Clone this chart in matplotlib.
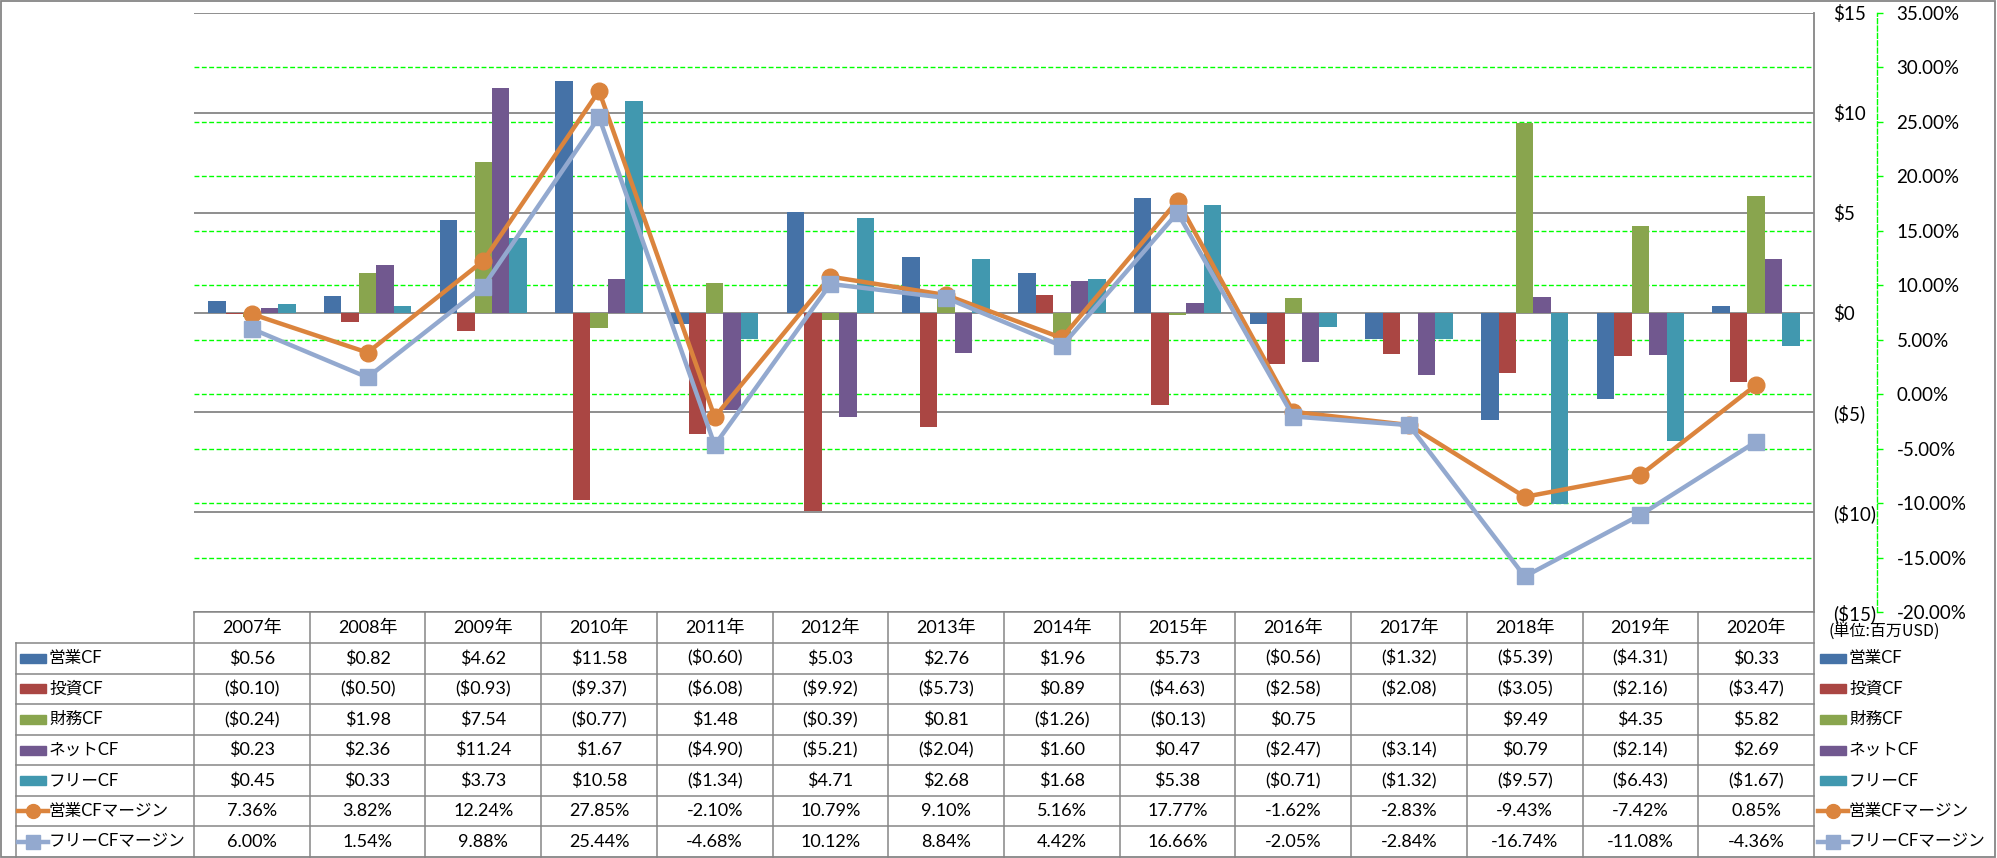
import numpy as np
import matplotlib.pyplot as plt
from matplotlib.patches import Rectangle
from matplotlib.lines import Line2D

plt.rcParams['font.family'] = ['Lato', 'Noto Sans CJK JP', 'DejaVu Sans']
plt.rcParams['font.size'] = 13

# ── データ（単位：百万USD）────────────────────────────────────────────
years = ['2007年', '2008年', '2009年', '2010年', '2011年', '2012年', '2013年',
         '2014年', '2015年', '2016年', '2017年', '2018年', '2019年', '2020年']
bar_names = ['営業CF', '投資CF', '財務CF', 'ネットCF', 'フリーCF']
eigyo_cf = [0.56, 0.82, 4.62, 11.58, -0.60, 5.03, 2.76, 1.96, 5.73, -0.56, -1.32, -5.39, -4.31, 0.33]
toushi_cf = [-0.10, -0.50, -0.93, -9.37, -6.08, -9.92, -5.73, 0.89, -4.63, -2.58, -2.08, -3.05, -2.16, -3.47]
zaimu_cf = [-0.24, 1.98, 7.54, -0.77, 1.48, -0.39, 0.81, -1.26, -0.13, 0.75, None, 9.49, 4.35, 5.82]
net_cf = [0.23, 2.36, 11.24, 1.67, -4.90, -5.21, -2.04, 1.60, 0.47, -2.47, -3.14, 0.79, -2.14, 2.69]
free_cf = [0.45, 0.33, 3.73, 10.58, -1.34, 4.71, 2.68, 1.68, 5.38, -0.71, -1.32, -9.57, -6.43, -1.67]
line_names = ['営業CFマージン', 'フリーCFマージン']
eigyo_margin = [7.36, 3.82, 12.24, 27.85, -2.10, 10.79, 9.10, 5.16, 17.77, -1.62, -2.83, -9.43, -7.42, 0.85]
free_margin = [6.00, 1.54, 9.88, 25.44, -4.68, 10.12, 8.84, 4.42, 16.66, -2.05, -2.84, -16.74, -11.08, -4.36]

bar_series = [eigyo_cf, toushi_cf, zaimu_cf, net_cf, free_cf]
line_series = [eigyo_margin, free_margin]
bar_colors = ['#4572A7', '#AA4643', '#89A54E', '#71588F', '#4198AF']
line_colors = ['#DB843D', '#93A9CF']
line_markers = ['o', 's']
GREY, LIME, RED = '#868686', '#00FF00', '#FF0000'

# ── レイアウト（ピクセル）────────────────────────────────────────────
W, H = 1997, 858
L, R, T, B = 194, 1814, 13, 612
fig = plt.figure(figsize=(W / 100, H / 100), dpi=100)
ax = fig.add_axes([L / W, 1 - B / H, (R - L) / W, (B - T) / H])
ax2 = ax.twinx()

n = len(years)
x = np.arange(n)
bw = 0.151
for i, (vals, c) in enumerate(zip(bar_series, bar_colors)):
    v = np.array([np.nan if a is None else a for a in vals])
    ax.bar(x + (i - 2) * bw, v, width=bw, color=c, zorder=2)

ax.set_xlim(-0.5, n - 0.5)
ylo, yhi = -15, 15
plo, phi = -20, 35
ax.set_ylim(ylo, yhi)
ax2.set_ylim(plo, phi)

# 主軸（$）
dticks = list(range(-15, 16, 5))
ax.set_yticks(dticks)
ax.set_yticklabels([f'${d}' if d >= 0 else f'(${-d})' for d in dticks])
for lab, d in zip(ax.get_yticklabels(), dticks):
    lab.set_color(RED if d < 0 else 'black')
ax.yaxis.tick_right()
ax.tick_params(axis='y', length=0, pad=14, labelsize=13.5)
ax.set_xticks([])
ax.yaxis.grid(True, color=GREY, lw=1.3)
ax.set_axisbelow(True)
for s in ['left', 'top', 'bottom']:
    ax.spines[s].set_visible(False)
ax.spines['right'].set_color(GREY)
ax.spines['right'].set_linewidth(1.3)

# 第2軸（%）の目盛線は棒の後ろに描く
pticks = list(range(-20, 36, 5))
for p in pticks[1:-1]:
    yy = ylo + (p - plo) / (phi - plo) * (yhi - ylo)
    ax.axhline(yy, color=LIME, lw=1.0, ls=(0, (3.5, 1.8)), zorder=1)

ax2.set_yticks(pticks)
ax2.set_yticklabels([f'{p:.2f}%' for p in pticks])
for lab, p in zip(ax2.get_yticklabels(), pticks):
    lab.set_color(RED if p < 0 else 'black')
for s in ['left', 'top', 'bottom']:
    ax2.spines[s].set_visible(False)
ax2.spines['right'].set_position(('axes', (1877 - L) / (R - L)))
ax2.spines['right'].set_color(LIME)
ax2.spines['right'].set_linestyle((0, (3.5, 1.8)))
ax2.spines['right'].set_linewidth(1.0)
ax2.tick_params(axis='y', length=4, width=1, color=LIME, pad=10, labelsize=13.5)

for vals, c, m in zip(line_series, line_colors, line_markers):
    ax2.plot(x, vals, color=c, lw=3.2, marker=m, ms=12 if m == 'o' else 11.5,
             zorder=3, clip_on=False)

# ── データテーブル ───────────────────────────────────────────────
tab = fig.add_axes([0, 0, 1, 1])
tab.set_xlim(0, W)
tab.set_ylim(H, 0)
tab.axis('off')

col_w = (R - L) / n
col_edges = [L + i * col_w for i in range(n + 1)]
row_edges = [612, 643] + [643 + (i + 1) * (857 - 643) / 7 for i in range(7)]
lw_t = 1.1

tab.plot([L, R], [row_edges[0]] * 2, color=GREY, lw=lw_t)
for ye in row_edges[1:-1]:
    tab.plot([16, R], [ye, ye], color=GREY, lw=lw_t)
for xe in col_edges:
    tab.plot([xe, xe], [row_edges[0], row_edges[-1]], color=GREY, lw=lw_t)
tab.plot([16, 16], [row_edges[1], row_edges[-1]], color=GREY, lw=lw_t)
tab.add_patch(Rectangle((1, 1), W - 3, H - 2.5, fill=False, ec=GREY, lw=1.3))

def fmt_dollar(v):
    if v is None:
        return ''
    return f'${v:.2f}' if v >= 0 else f'(${-v:.2f})'

rows = [[fmt_dollar(v) for v in s] for s in bar_series] + \
       [[f'{v:.2f}%' for v in s] for s in line_series]
row_names = bar_names + line_names
row_kinds = [('bar', c) for c in bar_colors] + list(zip(['o', 's'], line_colors))

hy = (row_edges[0] + row_edges[1]) / 2
for j, yr in enumerate(years):
    tab.text((col_edges[j] + col_edges[j + 1]) / 2, hy, yr, ha='center', va='center', fontsize=13)

def draw_key(x0, yc, kind):
    k, c = kind
    if k == 'bar':
        tab.add_patch(Rectangle((x0, yc - 4.5), 26, 9, color=c))
    else:
        tab.add_line(Line2D([x0 - 2, x0 + 28], [yc, yc], color=c, lw=3.2))
        tab.add_line(Line2D([x0 + 13], [yc], marker=k, color=c, ms=10 if k == 'o' else 9.5))

lab_fs = 12
for i, (name, kind, cells) in enumerate(zip(row_names, row_kinds, rows)):
    yc = (row_edges[i + 1] + row_edges[i + 2]) / 2
    draw_key(20, yc, kind)
    tab.text(49, yc, name, ha='left', va='center', fontsize=lab_fs)
    for j, t in enumerate(cells):
        tab.text((col_edges[j] + col_edges[j + 1]) / 2, yc, t, ha='center', va='center', fontsize=13)
    # 右側の凡例
    draw_key(1820, yc, kind)
    tab.text(1849, yc, name, ha='left', va='center', fontsize=lab_fs)

tab.text(1829, 632, '(単位:百万USD)', ha='left', va='center', fontsize=11.5,
         family=['Noto Sans CJK JP', 'DejaVu Sans'])

fig.savefig('out.png', dpi=100)
